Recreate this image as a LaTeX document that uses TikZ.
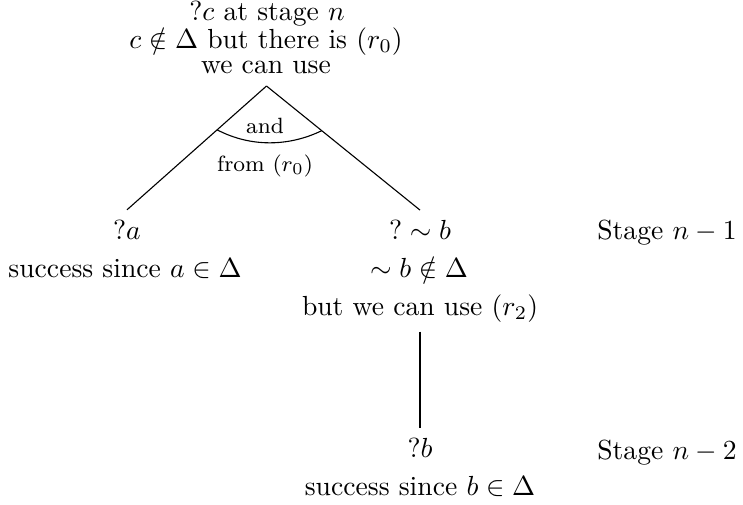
\documentclass[tikz,border=0pt]{standalone}
\usetikzlibrary{calc}
\tikzset{
  txt/.style={anchor=base,inner ysep=0pt},
  lbl/.style={anchor=base,inner ysep=0pt,font=\footnotesize}
}
\begin{document}
\begin{tikzpicture}[x=0.362pt,y=-0.362pt]
\useasboundingbox (0,0) rectangle (743,504);

% Goal at stage n
\node[txt] (goal) at (267,20) {?$c$ at stage $n$};
\node[txt] (goalb) at (266,48) {$c\notin\Delta$ but there is $(r_0)$};
\node[txt] (goalc) at (266,73) {we can use};
\coordinate (apex) at (266.5,86);

% Stage n-1
\node[txt] (qa) at (127,239) {?$a$};
\node[txt] (qab) at (125,277) {success since $a\in\Delta$};
\node[txt] (qnb) at (420,239) {$?\sim b$};
\node[txt] (qnbb) at (419,277) {$\sim b\notin\Delta$};
\node[txt] (qnbc) at (420,315) {but we can use $(r_2)$};
\node[txt] (st1) at (667,239) {Stage $n-1$};

\coordinate (ea) at ([yshift=3.33pt]qa.north);
\coordinate (enb) at ([yshift=3.33pt]qnb.north);
\draw (apex) -- (ea);
\draw (apex) -- (enb);

% the "and" arc
\coordinate (arcl) at ($(apex)!0.354!(ea)$);
\coordinate (arcr) at ($(apex)!0.36!(enb)$);
\draw (arcl) .. controls (250,147) and (288,147) .. (arcr);
\node[lbl] (and) at (265,133) {and};
\node[lbl] (from) at (265,171) {from $(r_0)$};

% Stage n-2
\node[txt] (qb) at (420,457) {?$b$};
\node[txt] (qbb) at (420,495) {success since $b\in\Delta$};
\node[txt] (st2) at (667,459) {Stage $n-2$};

\draw ([yshift=-3.33pt]qnbc.south) -- ([yshift=3.33pt]qb.north);

\end{tikzpicture}
\end{document}
